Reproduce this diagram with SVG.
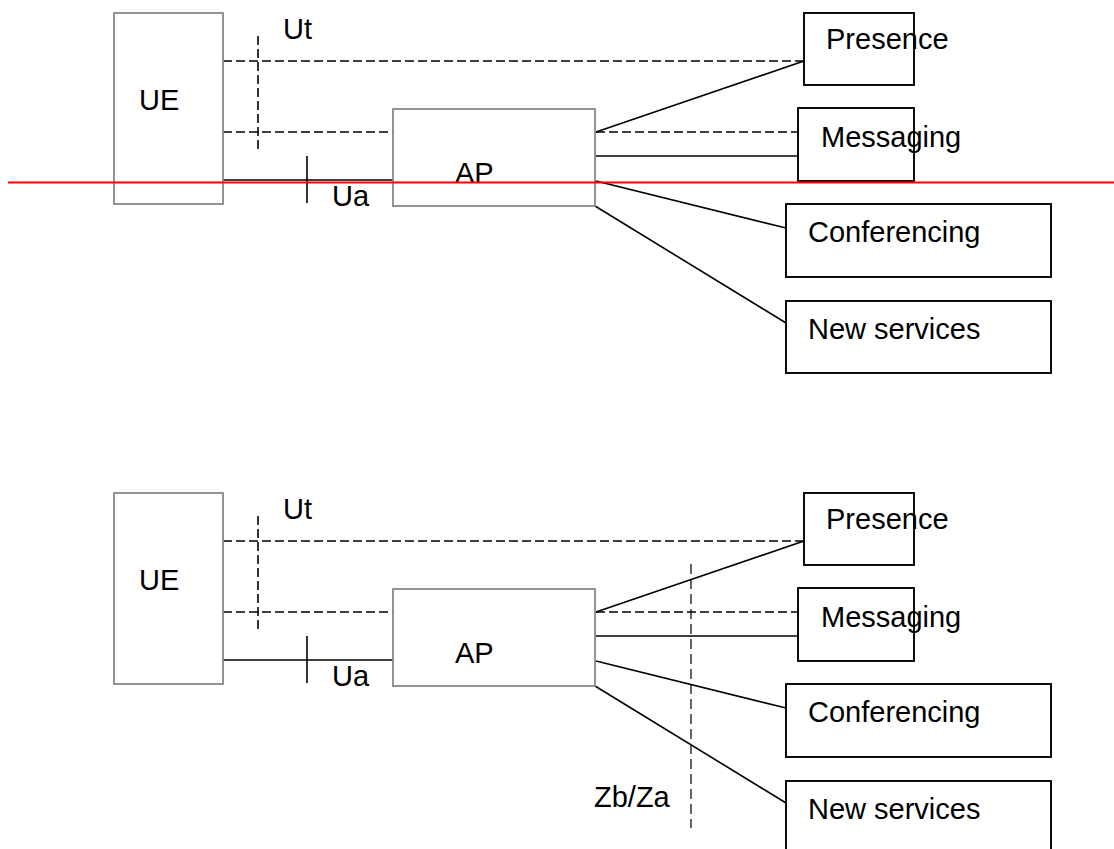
<svg xmlns="http://www.w3.org/2000/svg" width="1114" height="849" viewBox="0 0 1114 849">
  <style>
    .ent { fill: #fff; stroke: #888; stroke-width: 1.8; }
    .svc { fill: #fff; stroke: #000; stroke-width: 1.9; }
    .lbl { font-family: "Liberation Sans", Arial, sans-serif; font-size: 29px; fill: #000; }
    .ln { stroke: #000; stroke-width: 1.6; fill: none; }
    .dl { stroke: #000; stroke-width: 1.6; fill: none; stroke-dasharray: 9 4; }
    .ref { stroke: #000; stroke-width: 1.2; fill: none; stroke-dasharray: 10 5; }
  </style>
  <rect width="1114" height="849" fill="#fff"/>

  <!-- upper architecture -->
  <g id="upper">
    <g id="connectors-upper">
      <line class="dl" x1="223" y1="61" x2="804" y2="61"/>
      <line class="dl" x1="223" y1="132" x2="393" y2="132"/>
      <line class="ln" x1="223" y1="180" x2="393" y2="180"/>
      <line class="dl" x1="258" y1="36" x2="258" y2="153"/>
      <line class="ln" x1="307" y1="156" x2="307" y2="203"/>
      <line class="ln" x1="596" y1="132" x2="804" y2="61"/>
      <line class="dl" x1="596" y1="132" x2="798" y2="132"/>
      <line class="ln" x1="596" y1="156" x2="798" y2="156"/>
      <line class="ln" x1="596" y1="181" x2="786" y2="228"/>
      <line class="ln" x1="595" y1="206" x2="786" y2="323"/>
      <text class="lbl" x="283" y="39">Ut</text>
      <text class="lbl" x="332" y="206">Ua</text>
    </g>
    <g id="ue-1"><rect class="ent" x="114" y="13" width="109" height="191"/><text class="lbl" x="139" y="110">UE</text></g>
    <g id="ap-1"><rect class="ent" x="393" y="109" width="202" height="97"/><text class="lbl" x="455" y="183">AP</text></g>
    <g id="presence-1"><rect class="svc" x="804" y="13" width="110" height="72"/><text class="lbl" x="826" y="49">Presence</text></g>
    <g id="messaging-1"><rect class="svc" x="798" y="108" width="116" height="73"/><text class="lbl" x="821" y="147">Messaging</text></g>
    <g id="conferencing-1"><rect class="svc" x="786" y="204" width="265" height="73"/><text class="lbl" x="808" y="242">Conferencing</text></g>
    <g id="newservices-1"><rect class="svc" x="786" y="301" width="265" height="72"/><text class="lbl" x="808" y="339">New services</text></g>
  </g>

  <!-- lower architecture, with the Zb/Za reference point -->
  <g id="lower" transform="translate(0,480)">
    <g id="connectors-lower">
      <line class="dl" x1="223" y1="61" x2="804" y2="61"/>
      <line class="dl" x1="223" y1="132" x2="393" y2="132"/>
      <line class="ln" x1="223" y1="180" x2="393" y2="180"/>
      <line class="dl" x1="258" y1="36" x2="258" y2="153"/>
      <line class="ln" x1="307" y1="156" x2="307" y2="203"/>
      <line class="ln" x1="596" y1="132" x2="804" y2="61"/>
      <line class="dl" x1="596" y1="132" x2="798" y2="132"/>
      <line class="ln" x1="596" y1="156" x2="798" y2="156"/>
      <line class="ln" x1="596" y1="181" x2="786" y2="228"/>
      <line class="ln" x1="595" y1="206" x2="786" y2="323"/>
      <line class="ref" x1="691" y1="84" x2="691" y2="348"/>
      <text class="lbl" x="283" y="39">Ut</text>
      <text class="lbl" x="332" y="206">Ua</text>
      <text class="lbl" x="594" y="327">Zb/Za</text>
    </g>
    <g id="ue-2"><rect class="ent" x="114" y="13" width="109" height="191"/><text class="lbl" x="139" y="110">UE</text></g>
    <g id="ap-2"><rect class="ent" x="393" y="109" width="202" height="97"/><text class="lbl" x="455" y="183">AP</text></g>
    <g id="presence-2"><rect class="svc" x="804" y="13" width="110" height="72"/><text class="lbl" x="826" y="49">Presence</text></g>
    <g id="messaging-2"><rect class="svc" x="798" y="108" width="116" height="73"/><text class="lbl" x="821" y="147">Messaging</text></g>
    <g id="conferencing-2"><rect class="svc" x="786" y="204" width="265" height="73"/><text class="lbl" x="808" y="242">Conferencing</text></g>
    <g id="newservices-2"><rect class="svc" x="786" y="301" width="265" height="72"/><text class="lbl" x="808" y="339">New services</text></g>
  </g>

  <!-- red horizontal rule across the upper drawing -->
  <line x1="8" y1="182.5" x2="1114" y2="182.5" stroke="#f00" stroke-width="2"/>
</svg>
